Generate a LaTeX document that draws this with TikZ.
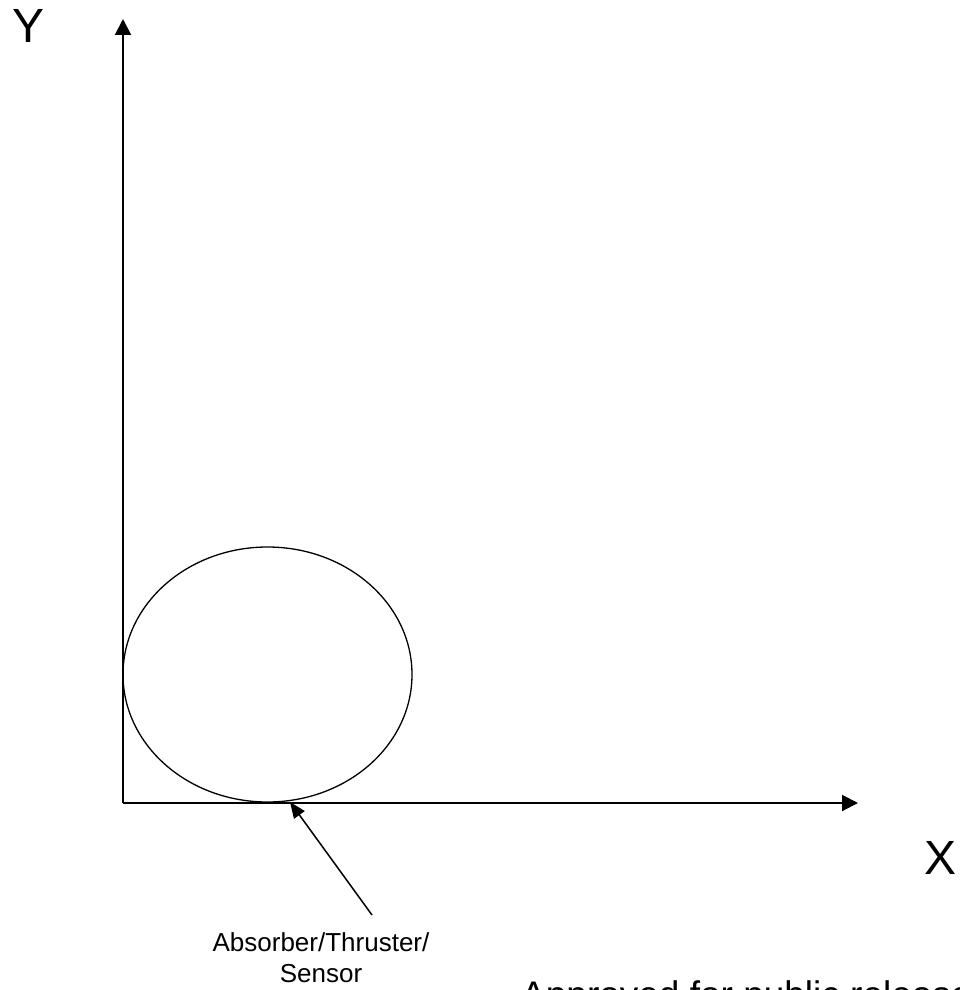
\documentclass[tikz,border=0pt]{standalone}
\usepackage{fontspec}
\setmainfont{Liberation Sans}
\usetikzlibrary{arrows.meta,shapes.geometric}
\begin{document}
\begin{tikzpicture}[x=1pt,y=-1pt,
  axisline/.style={line width=2pt,-{Triangle[length=16pt,width=16pt]}},
  pointer/.style={line width=1.5pt,-{Triangle[length=16pt,width=13pt]}},
  biglabel/.style={inner sep=0pt,font=\fontsize{48}{56}\selectfont},
  smalllabel/.style={inner sep=0pt,font=\fontsize{26}{31}\selectfont},
  notelabel/.style={inner sep=0pt,font=\fontsize{37}{44}\selectfont}]
\useasboundingbox (0,0) rectangle (959,990);
\coordinate (O) at (123,803);
\coordinate (ytip) at (123,19);
\coordinate (xtip) at (858,803);
\draw[axisline] (O) -- (ytip);
\draw[axisline] (O) -- (xtip);
\node[draw,line width=1.3pt,ellipse,minimum width=289pt,minimum height=255pt,inner sep=0pt] (body) at (267.5,674.5) {};
\coordinate (ptail) at (372,915);
\coordinate (ptip) at (290,802);
\draw[pointer] (ptail) -- (ptip);
\node[biglabel,anchor=base west] (ylab) at (12,43) {Y};
\node[biglabel,anchor=base west] (xlab) at (924,874) {X};
\node[smalllabel,anchor=base] (lab1) at (321,951) {Absorber/Thruster/};
\node[smalllabel,anchor=base] (lab2) at (321,982) {Sensor};
\node[notelabel,anchor=base west] (note) at (521,1007) {Approved for public release};
\end{tikzpicture}
\end{document}
